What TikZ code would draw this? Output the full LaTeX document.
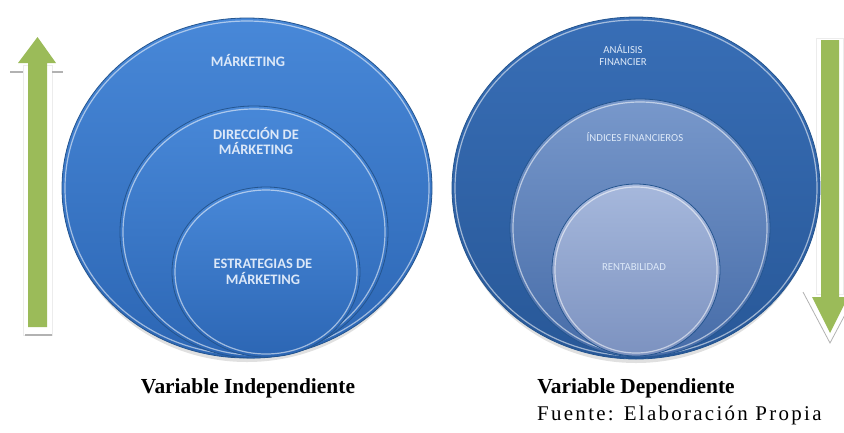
\documentclass[tikz,border=0pt]{standalone}
\usepackage{fontspec}
\setmainfont{Liberation Serif}
\newfontfamily\labelfont{Carlito}
\newfontfamily\fuentefont[LetterSpace=11]{Liberation Serif}
\usetikzlibrary{arrows,calc}

\definecolor{arrowgreen}{HTML}{9BBB59}
\definecolor{rimdark}{HTML}{24558F}
\definecolor{leftlight}{RGB}{72,136,216}
\definecolor{leftdark}{RGB}{44,102,180}
\definecolor{labeltext}{HTML}{DCE8F8}

\begin{document}
\begin{tikzpicture}[x=1bp,y=-1bp,
  ring/.style={draw=rimdark, line width=0.8pt},
  shine/.style={draw=white, draw opacity=0.55, line width=1.2pt},
  biglabel/.style={font=\labelfont\bfseries\fontsize{14.5}{16}\selectfont, text=labeltext, align=center, inner sep=0pt},
  smalllabel/.style={font=\labelfont\fontsize{10.8}{12.5}\selectfont, text=labeltext, align=center, inner sep=0pt},
  caption/.style={font=\bfseries\fontsize{21.5}{25}\selectfont, inner sep=0pt, anchor=base}]
\useasboundingbox (0,0) rectangle (844,432);
\coordinate (LO) at (247,188);
\coordinate (LM) at (254,232);
\coordinate (LI) at (266,272);
\coordinate (RO) at (636,188);
\coordinate (RM) at (640,228);
\coordinate (RI) at (636,270);

% The arrows
\draw[gray!15, line width=1pt] (23,65) rectangle (52,335);
\fill[arrowgreen] (28,327) -- (28,63) -- (18,63) -- (37.5,37) -- (56,63) -- (47,63) -- (47,327) -- cycle;
\foreach \xa/\ya/\xb in {10/72/23, 52/72/63, 25/335/52}
  \draw[gray!60, line width=1.2pt] (\xa,\ya) -- (\xb,\ya);
\draw[gray!15, line width=1pt] (816,38) rectangle (843,294);
\fill[arrowgreen] (821,40) -- (839,40) -- (839,297) -- (848,297) -- (830,333) -- (812,297) -- (821,297) -- cycle;
\draw[gray!60, line width=0.8pt] (803,292) -- (830,343) -- (857,292);

% The shadows
\fill[black, opacity=0.12] ($(LO)+(0,4)$) ellipse [x radius=183, y radius=170];
\fill[black, opacity=0.12] ($(RO)+(0,4)$) ellipse [x radius=182, y radius=171];

% The left circles
\shade[top color=leftlight, bottom color=leftdark, ring] (LO) ellipse [x radius=185, y radius=170];
\draw[shine] (LO) ellipse [x radius=182, y radius=167];
\shade[top color=leftlight, bottom color=leftdark, ring] (LM) ellipse [x radius=134, y radius=126];
\draw[shine] (LM) ellipse [x radius=131, y radius=123];
\shade[top color=leftlight, bottom color=leftdark, ring] (LI) ellipse [x radius=94, y radius=85];
\draw[shine] (LI) ellipse [x radius=91, y radius=82];

% The right circles
\shade[top color={rgb,255:red,56;green,110;blue,182}, bottom color={rgb,255:red,40;green,88;blue,152}, ring] (RO) ellipse [x radius=184, y radius=171];
\draw[shine] (RO) ellipse [x radius=181, y radius=168];
\shade[top color={rgb,255:red,120;green,152;blue,203}, bottom color={rgb,255:red,70;green,108;blue,168}, ring] (RM) ellipse [x radius=130, y radius=129];
\draw[shine] (RM) ellipse [x radius=127, y radius=126];
\shade[top color={rgb,255:red,166;green,184;blue,220}, bottom color={rgb,255:red,124;green,146;blue,192}, ring] (RI) ellipse [x radius=84, y radius=86];
\draw[shine] (RI) ellipse [x radius=81, y radius=83];

% The labels
\node[biglabel] (mkt) at (248,60) {MÁRKETING};
\node[biglabel] (dir) at (256,141) {DIRECCIÓN DE\\MÁRKETING};
\node[biglabel] (est) at (263,272) {ESTRATEGIAS DE\\MÁRKETING};
\node[smalllabel] (ana) at (623,55) {ANÁLISIS\\FINANCIER};
\node[smalllabel] (ind) at (635,137) {ÍNDICES FINANCIEROS};
\node[smalllabel] (ren) at (634,267) {RENTABILIDAD};

\node[caption] (indep) at (248,393) {Variable Independiente};
\node[caption] (dep) at (636,393) {Variable Dependiente};
\node[font=\fuentefont\fontsize{21}{24}\selectfont, inner sep=0pt, anchor=base west] (fuente) at (537,420) {Fuente: Elaboración Propia};
\end{tikzpicture}
\end{document}
